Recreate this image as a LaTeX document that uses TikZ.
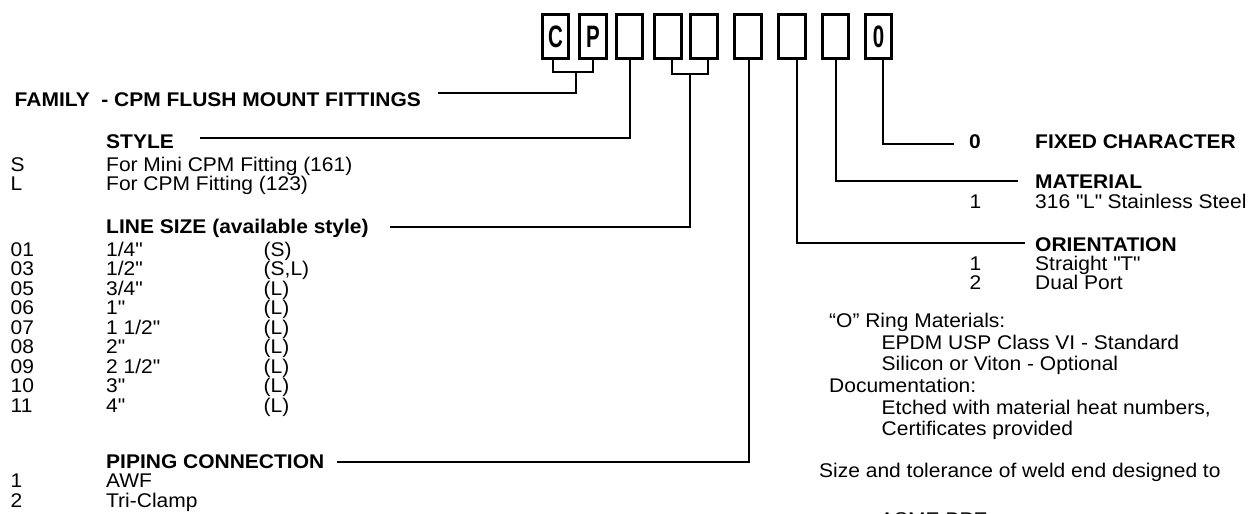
\documentclass[tikz,border=0pt]{standalone}
\usepackage{fontspec}
\setmainfont{Liberation Sans}[FakeStretch=1.06]
\newfontfamily\condfont{Liberation Sans}[FakeStretch=0.66]
\newcommand{\qd}{\textquotedbl}
\begin{document}
\begin{tikzpicture}[x=1pt,y=-1pt,
  txt/.style={anchor=base west, inner sep=0pt, font=\fontsize{19.8}{19.5}\selectfont},
  hd/.style={anchor=base west, inner sep=0pt, font=\fontsize{19.8}{19.5}\selectfont\bfseries},
  digit/.style={draw, line width=2.6pt, minimum width=26.5pt, minimum height=44pt, inner sep=0pt,
    font=\condfont\fontsize{31}{31}\selectfont\bfseries},
  lead/.style={draw, line width=2pt}
]
\useasboundingbox (0,0) rectangle (1251,514);
% code boxes
\node[digit] (b1) at (555.5,36.5) {C};
\node[digit] (b2) at (593,36.5) {P};
\node[digit] (b3) at (629.5,36.5) {};
\node[digit] (b4) at (668,36.5) {};
\node[digit] (b5) at (704,36.5) {};
\node[digit] (b6) at (748,36.5) {};
\node[digit] (b7) at (792,36.5) {};
\node[digit] (b8) at (835.5,36.5) {};
\node[digit] (b9) at (878.5,36.5) {0};
% end coordinates of leaders
\coordinate (eF) at (438,93.3);
\coordinate (eS) at (200,138);
\coordinate (eL) at (390,227);
\coordinate (eP) at (337,461.7);
\coordinate (e9) at (954,144);
\coordinate (e8) at (1018,181);
\coordinate (e7) at (1025,243);
\coordinate (j12) at (576,72);
\coordinate (j45) at (690,74);
% brackets and leaders
\draw[lead] ([xshift=-2.5pt]b1.south) |- (j12) -| (b2.south);
\draw[lead] (j12) |- (eF);
\draw[lead] (b3.south) |- (eS);
\draw[lead] ([xshift=3.7pt]b4.south) |- (j45) -| ([xshift=4pt]b5.south);
\draw[lead] (j45) |- (eL);
\draw[lead] ([xshift=1pt]b6.south) |- (eP);
\draw[lead] ([xshift=4.7pt]b7.south) |- (e7);
\draw[lead] ([xshift=0.5pt]b8.south) |- (e8);
\draw[lead] ([xshift=4.8pt]b9.south) |- (e9);
% left texts
\node[hd] (family) at (14.5,106) {FAMILY \ - CPM FLUSH MOUNT FITTINGS};
\node[hd] (style) at (106,148) {STYLE};
\node[txt] (s1) at (10.5,171) {S};
\node[txt] (s1t) at (106,171) {For Mini CPM Fitting (161)};
\node[txt] (s2) at (10.5,190.5) {L};
\node[txt] (s2t) at (106,190.5) {For CPM Fitting (123)};
\node[hd] (linesize) at (106,233.5) {LINE SIZE (available style)};
\foreach \n/\s/\a [count=\i from 0] in {01/{1/4\qd}/{(S)},03/{1/2\qd}/{(S,L)},05/{3/4\qd}/{(L)},06/{1\qd}/{(L)},07/{1 1/2\qd}/{(L)},08/{2\qd}/{(L)},09/{2 1/2\qd}/{(L)},10/{3\qd}/{(L)},11/{4\qd}/{(L)}}{
  \node[txt] (ln\i) at (10.5,256+19.5*\i) {\n};
  \node[txt] (ls\i) at (106,256+19.5*\i) {\s};
  \node[txt] (la\i) at (263.5,256+19.5*\i) {\a};
}
\node[hd] (piping) at (106,468) {PIPING CONNECTION};
\node[txt] (p1) at (10.5,487.5) {1};
\node[txt] (p1t) at (106,487.5) {AWF};
\node[txt] (p2) at (10.5,507) {2};
\node[txt] (p2t) at (106,507) {Tri-Clamp};
% right texts
\node[hd] (f0) at (969,148.5) {0};
\node[hd] (fixed) at (1035,148.5) {FIXED CHARACTER};
\node[hd] (material) at (1035,188.3) {MATERIAL};
\node[txt] (m1) at (969.5,208) {1};
\node[txt] (m1t) at (1035,208) {316 \qd L\qd{} Stainless Steel};
\node[hd] (orient) at (1035,251.7) {ORIENTATION};
\node[txt] (o1) at (969.5,270.5) {1};
\node[txt] (o1t) at (1035,270.5) {Straight \qd T\qd};
\node[txt] (o2) at (969.5,289.5) {2};
\node[txt] (o2t) at (1035,289.5) {Dual Port};
% notes
\node[txt] (n1) at (829,327) {“O” Ring Materials:};
\node[txt] (n2) at (881.5,349) {EPDM USP Class VI - Standard};
\node[txt] (n3) at (881.5,370.5) {Silicon or Viton - Optional};
\node[txt] (n4) at (829,392) {Documentation:};
\node[txt] (n5) at (881.5,414) {Etched with material heat numbers,};
\node[txt] (n6) at (881.5,435.5) {Certificates provided};
\node[txt] (n7) at (819,477) {Size and tolerance of weld end designed to};
\node[txt] (n8) at (880,526) {ASME BPE};
\end{tikzpicture}
\end{document}
